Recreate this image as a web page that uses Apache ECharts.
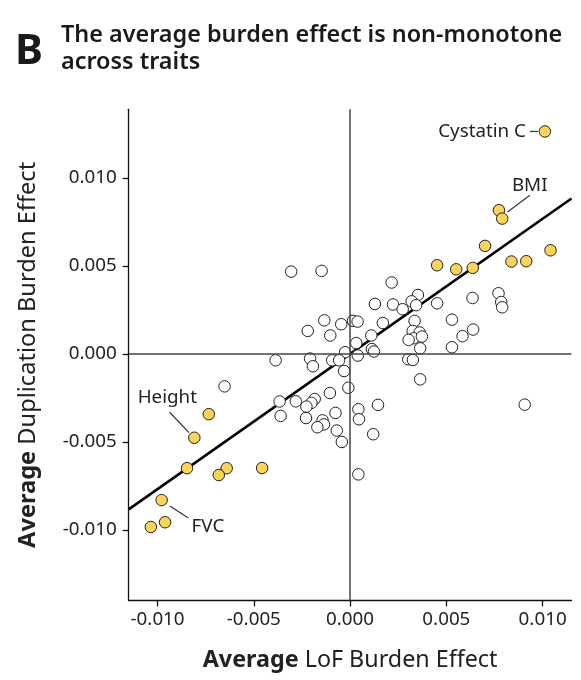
<!DOCTYPE html>
<html>
<head>
<meta charset="utf-8">
<script src="https://cdn.jsdelivr.net/npm/echarts@6/dist/echarts.min.js"></script>
<style>
html,body{margin:0;padding:0;background:#fff;}
#chart{width:581px;height:680px;}
</style>
</head>
<body>
<div id="chart"></div>
<script>
// ---- data ----
const otherLoF = [-0.00306,-0.00148,-0.00134,-0.00046,0.00015,0.00039,-0.0022,-0.00103,0.00032,-0.00026,0.0004,-0.00387,-0.00208,-0.00193,-0.00093,-0.00057,-0.00031,-0.00009,-0.00652,-0.00105,-0.00184,-0.00201,-0.00227,-0.00282,-0.00366,-0.00361,-0.00229,-0.00143,-0.00136,-0.0017,-0.00076,-0.00069,-0.00043,0.00043,0.00046,0.0012,0.00145,0.00043,0.00216,0.00352,0.0032,0.00343,0.00129,0.00223,0.00273,0.00452,0.00636,0.00771,0.00785,0.0079,0.0017,0.00335,0.00529,0.00639,0.00584,0.00529,0.00325,0.00361,0.0033,0.00304,0.00373,0.00364,0.0011,0.00113,0.00124,0.00302,0.00326,0.00364,0.00907];
const otherDup = [0.00468,0.00472,0.00191,0.00169,0.00188,0.00184,0.00131,0.00105,0.00062,0.0001,-0.00009,-0.00036,-0.00026,-0.0007,-0.00036,-0.00036,-0.00097,-0.00192,-0.00184,-0.00222,-0.00256,-0.00278,-0.00299,-0.00269,-0.0027,-0.00352,-0.00364,-0.00377,-0.004,-0.00416,-0.00335,-0.00435,-0.005,-0.00314,-0.00371,-0.00456,-0.00289,-0.00684,0.00406,0.00335,0.00299,0.00277,0.00284,0.00281,0.00254,0.00288,0.00318,0.00345,0.00295,0.00265,0.00176,0.00188,0.00195,0.00139,0.00101,0.00038,0.00131,0.00122,0.00089,0.0008,0.00099,0.00032,0.00105,0.00028,0.00014,-0.0003,-0.00034,-0.00144,-0.00288];
const hiNames = ['Cystatin C','BMI','BMI2','','','','','','','','Height','','','','','','FVC','',''];
const hiLoF = [0.01012,0.00773,0.0079,0.00701,0.01041,0.00452,0.00551,0.00637,0.00838,0.00915,-0.00809,-0.00734,-0.00847,-0.00641,-0.00682,-0.00457,-0.00979,-0.00961,-0.01035];
const hiDup = [0.01264,0.00817,0.00769,0.00614,0.00589,0.00504,0.00481,0.00489,0.00525,0.00527,-0.00476,-0.00342,-0.00649,-0.00649,-0.00688,-0.00648,-0.0083,-0.00956,-0.00983];
const fitLoF = [-0.0115, 0.0115];
const fitDup = [-0.00883, 0.00883];
const xTicks = [-0.01,-0.005,0,0.005,0.01];
const yTicks = [-0.01,-0.005,0,0.005,0.01];
const annotated = ['Cystatin C','BMI2','Height','FVC'];
const annotationText = {'Cystatin C':'Cystatin C','BMI2':'BMI','Height':'Height','FVC':'FVC'};

// ---- style/layout ----
const FONT = 'Noto Sans';
const INK = '#222';
const annLayout = {
  'Cystatin C': {tx:-19, ty:0, align:'right', l:[-15,0,-7,0]},
  'BMI2': {tx:27.5, ty:-33, align:'center', l:[27.7,-23.3,5.3,-6.6]},
  'Height': {tx:-27, ty:-40, align:'center', l:[-24.7,-25.5,-5.4,-5.2]},
  'FVC': {tx:30, ty:26.5, align:'left', l:[8.3,6,26.6,18]}
};

const chart = echarts.init(document.getElementById('chart'), null, {renderer:'canvas'});
const fmt = v => v.toFixed(3);

const option = {
  animation:false,
  backgroundColor:'#fff',
  grid:{left:128.7, right:9.5, top:109.3, bottom:79.6, containLabel:false},
  xAxis:{
    type:'value', min:-0.0115, max:0.0115,
    axisLine:{show:true, onZero:false, lineStyle:{color:'#111', width:1.3}},
    axisTick:{show:true, customValues:xTicks, length:6, lineStyle:{color:'#111', width:1.3}},
    axisLabel:{customValues:xTicks, formatter:fmt, fontSize:18.8, color:INK, margin:10, fontFamily:FONT},
    splitLine:{show:false},
    name:'{b|Average} LoF Burden Effect', nameLocation:'middle', nameGap:48,
    nameTextStyle:{fontSize:23.3, color:INK, fontFamily:FONT,
      rich:{b:{fontSize:23.3, fontWeight:'bold', color:INK, fontFamily:FONT}}}
  },
  yAxis:{
    type:'value', min:-0.014, max:0.0139,
    axisLine:{show:true, onZero:false, lineStyle:{color:'#111', width:1.3}},
    axisTick:{show:true, customValues:yTicks, length:6, lineStyle:{color:'#111', width:1.3}},
    axisLabel:{customValues:yTicks, formatter:fmt, fontSize:18.8, color:INK, margin:12, fontFamily:FONT},
    splitLine:{show:false},
    name:'{b|Average} Duplication Burden Effect', nameLocation:'middle', nameGap:88, nameRotate:90,
    nameTextStyle:{fontSize:23.6, color:INK, fontFamily:FONT,
      rich:{b:{fontSize:23.6, fontWeight:'bold', color:INK, fontFamily:FONT}}}
  },
  series:[
    {
      type:'line', data:fitLoF.map((x,i)=>[x,fitDup[i]]), showSymbol:false, symbol:'none',
      lineStyle:{color:'#000', width:2.6}, z:2, silent:true,
      markLine:{silent:true, symbol:'none', label:{show:false}, animation:false,
        lineStyle:{color:'#444', width:1.5, type:'solid'},
        data:[{xAxis:0},{yAxis:0}]}
    },
    {
      type:'scatter', data:otherLoF.map((x,i)=>[x,otherDup[i]]), symbolSize:11.5, z:3,
      itemStyle:{color:'#fff', borderColor:'#222', borderWidth:1, opacity:1}
    },
    {
      type:'scatter', data:hiLoF.map((x,i)=>({name:hiNames[i], value:[x,hiDup[i]]})), symbolSize:11.5, z:4,
      itemStyle:{color:'#F8D55A', borderColor:'#222', borderWidth:1, opacity:1}
    }
  ],
  graphic:[
    {type:'text', left:15, top:31, style:{text:'B', font:'bold 42px "Noto Sans"', fill:'#1a1a1a'}},
    {type:'text', left:61, top:22, style:{text:'The average burden effect is non-monotone\nacross traits', font:'600 23.4px "Noto Sans"', lineHeight:27, fill:'#1a1a1a'}}
  ]
};
chart.setOption(option);

// annotations positioned through the chart's own scales
const extra = [];
annotated.forEach(n => {
  const i = hiNames.indexOf(n);
  const p = chart.convertToPixel({seriesIndex:2}, [hiLoF[i], hiDup[i]]);
  const L = annLayout[n];
  extra.push({type:'text', x:p[0]+L.tx, y:p[1]+L.ty, z:10,
    style:{text:annotationText[n], font:'18.8px "Noto Sans"', fill:INK, align:L.align, verticalAlign:'middle'}});
  extra.push({type:'line', z:10, shape:{x1:p[0]+L.l[0], y1:p[1]+L.l[1], x2:p[0]+L.l[2], y2:p[1]+L.l[3]},
    style:{stroke:'#333', lineWidth:1.2}});
});
chart.setOption({graphic: option.graphic.concat(extra)});
</script>
</body>
</html>
